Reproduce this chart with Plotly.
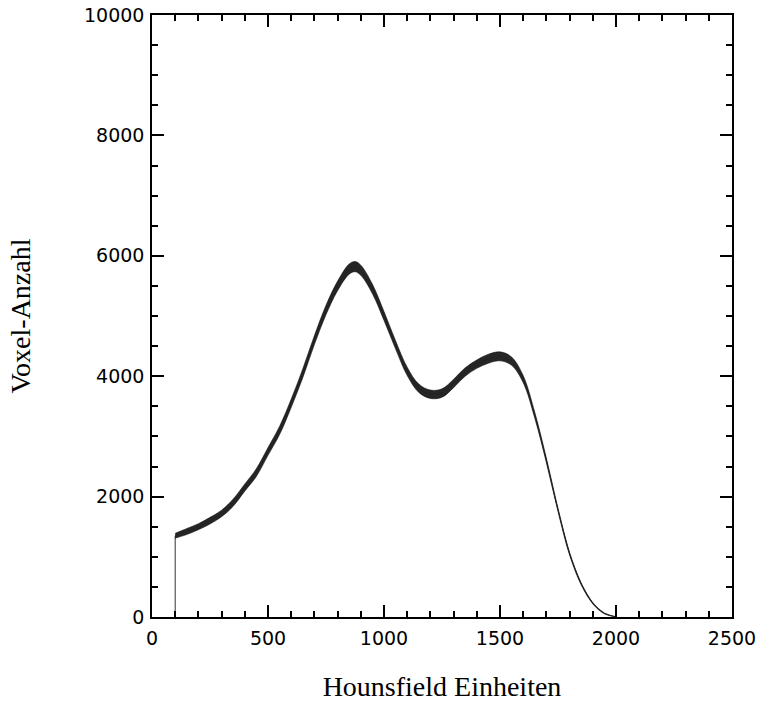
import plotly.graph_objects as go

# Histogram of Hounsfield units
hu = [100, 150, 200, 250, 300, 350, 400, 450, 500, 550, 600, 650, 700, 750,
      800, 850, 875, 900, 950, 1000, 1050, 1100, 1150, 1200, 1250, 1300, 1350,
      1400, 1450, 1500, 1550, 1600, 1650, 1700, 1750, 1800, 1850, 1900, 1950, 2000]
counts = [1350, 1420, 1500, 1600, 1720, 1900, 2150, 2400, 2750, 3100, 3550, 4050,
          4600, 5100, 5500, 5780, 5820, 5760, 5450, 5000, 4520, 4080, 3800, 3700,
          3720, 3880, 4070, 4200, 4290, 4330, 4250, 3950, 3350, 2600, 1780, 1050,
          550, 230, 60, 0]
# half-width of the noise band seen around the curve
noise = [40, 50, 50, 55, 55, 60, 60, 65, 65, 70, 70, 75, 75, 80, 80, 85, 85, 85,
         80, 75, 70, 70, 70, 70, 70, 70, 70, 70, 75, 75, 70, 60, 50, 40, 30, 25,
         18, 12, 8, 4]
# first populated bin: jump from zero
edge_hu = [100, 100]
edge_counts = [0, 1350]

x_ticks = [0, 500, 1000, 1500, 2000, 2500]
y_ticks = [0, 2000, 4000, 6000, 8000, 10000]

upper = [c + n for c, n in zip(counts, noise)]
lower = [max(c - n, 0) for c, n in zip(counts, noise)]

fig = go.Figure()
fig.add_trace(go.Scatter(x=edge_hu, y=edge_counts, mode="lines",
                         line=dict(color="#333", width=1),
                         showlegend=False, hoverinfo="skip"))
fig.add_trace(go.Scatter(x=hu, y=lower, mode="lines",
                         line=dict(color="black", width=0.5, shape="spline"),
                         showlegend=False, hoverinfo="skip"))
fig.add_trace(go.Scatter(x=hu, y=upper, mode="lines", fill="tonexty",
                         fillcolor="rgba(0,0,0,0.85)",
                         line=dict(color="black", width=0.5, shape="spline"),
                         showlegend=False, hoverinfo="skip"))
fig.add_trace(go.Scatter(x=hu, y=counts, mode="lines",
                         line=dict(color="#222", width=1, shape="spline", smoothing=0.6),
                         showlegend=False))

axis_common = dict(
    showline=True, linecolor="black", linewidth=1.5, mirror="ticks",
    ticks="inside", tickcolor="black", tickwidth=1.5, ticklen=12,
    showgrid=False, zeroline=False, ticklabeloverflow="allow",
    tickfont=dict(family="DejaVu Sans", size=19, color="black"),
)

fig.update_xaxes(range=[0, 2500], tickvals=x_ticks, ticktext=[str(v) for v in x_ticks],
                 minor=dict(ticks="inside", dtick=100, tick0=0, ticklen=6,
                            tickwidth=1.5, tickcolor="black", showgrid=False),
                 ticklabelstandoff=3,
                 title=dict(text="Hounsfield Einheiten",
                            font=dict(family="Liberation Serif", size=28, color="black"),
                            standoff=32),
                 **axis_common)
fig.update_yaxes(range=[0, 10000], tickvals=y_ticks, ticktext=[str(v) for v in y_ticks],
                 minor=dict(ticks="inside", dtick=500, tick0=0, ticklen=6,
                            tickwidth=1.5, tickcolor="black", showgrid=False),
                 ticklabelstandoff=2,
                 title=dict(text="Voxel-Anzahl",
                            font=dict(family="Liberation Serif", size=28, color="black"),
                            standoff=45),
                 **axis_common)

fig.update_layout(
    width=760, height=702,
    margin=dict(l=152, r=28, t=15, b=85, autoexpand=False),
    plot_bgcolor="white", paper_bgcolor="white",
    showlegend=False,
)

# remove the browser's default body margin so the figure fills the window exactly
fig.write_html("out.html",
               config={"displayModeBar": False},
               post_script="document.body.style.margin='0';"
                           "document.body.style.overflow='hidden';")
